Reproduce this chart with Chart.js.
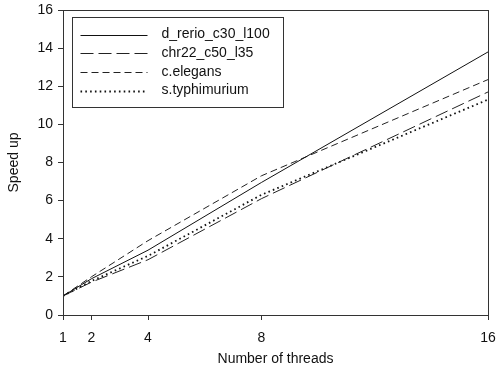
<!DOCTYPE html>
<html>
<head>
<meta charset="utf-8">
<script src="https://cdn.jsdelivr.net/npm/chart.js@4/dist/chart.umd.min.js"></script>
<style>
html,body{margin:0;padding:0;background:#fff;}
#wrap{width:502px;height:372px;position:relative;}
</style>
</head>
<body>
<div id="wrap"><canvas id="c" width="502" height="372"></canvas></div>
<script>
const threads = [1, 2, 4, 8, 16];
const xTicks = [1, 2, 4, 8, 16];
const seriesNames = ["d_rerio_c30_l100", "chr22_c50_l35", "c.elegans", "s.typhimurium"];
const dRerio = [1, 1.9, 3.4, 6.95, 13.8];
const chr22 = [1, 1.72, 2.9, 6.1, 11.7];
const cElegans = [1, 2.0, 3.9, 7.3, 12.35];
const sTyph = [1, 1.78, 3.1, 6.3, 11.3];

const FONT = "'Liberation Sans', Arial, sans-serif";
const toPts = arr => arr.map((v, i) => ({x: threads[i], y: v}));

const styles = [
  {dash: [], width: 1, color: '#111'},
  {dash: [13, 5], width: 1, color: '#222'},
  {dash: [7, 4], width: 1, color: '#222'},
  {dash: [1.6, 3.2], width: 1.8, color: '#111'}
];
const values = [dRerio, chr22, cElegans, sTyph];

const datasets = values.map((v, i) => ({
  label: seriesNames[i],
  data: toPts(v),
  borderColor: styles[i].color,
  borderWidth: styles[i].width,
  borderDash: styles[i].dash,
  pointRadius: 0,
  fill: false,
  tension: 0
}));

const framePlugin = {
  id: 'frame',
  afterDraw(chart) {
    const {ctx, chartArea: a} = chart;
    ctx.save();
    ctx.strokeStyle = '#333';
    ctx.lineWidth = 1;
    ctx.strokeRect(Math.round(a.left) + 0.5, Math.round(a.top) + 0.5,
      Math.round(a.right - a.left), Math.round(a.bottom - a.top));
    // legend
    const bx = Math.round(a.left) + 9.5, by = Math.round(a.top) + 7.5;
    const bw = 211, bh = 90;
    ctx.fillStyle = '#fff';
    ctx.fillRect(bx, by, bw, bh);
    ctx.strokeStyle = '#333';
    ctx.setLineDash([]);
    ctx.strokeRect(bx, by, bw, bh);
    chart.data.datasets.forEach((ds, i) => {
      const y = by + 17 + i * 18.7;
      ctx.save();
      ctx.strokeStyle = ds.borderColor;
      ctx.lineWidth = ds.borderWidth;
      ctx.setLineDash(ds.borderDash || []);
      ctx.beginPath();
      ctx.moveTo(bx + 8, Math.round(y) + 0.5);
      ctx.lineTo(bx + 75, Math.round(y) + 0.5);
      ctx.stroke();
      ctx.restore();
      ctx.fillStyle = '#111';
      ctx.font = '14px ' + FONT;
      ctx.textBaseline = 'middle';
      ctx.textAlign = 'left';
      ctx.fillText(ds.label, bx + 89, y);
    });
    ctx.restore();
  }
};

new Chart(document.getElementById('c'), {
  type: 'line',
  data: {datasets},
  options: {
    responsive: false,
    animation: false,
    devicePixelRatio: 1,
    layout: {padding: {top: 10, right: 14, left: 0, bottom: 0}},
    plugins: {legend: {display: false}, tooltip: {enabled: false}},
    scales: {
      x: {
        type: 'linear', min: 1, max: 16,
        afterBuildTicks: s => { s.ticks = xTicks.map(v => ({value: v})); },
        afterFit: s => { s.height = 57; s.paddingLeft = 0; s.paddingRight = 0; },
        grid: {display: true, drawOnChartArea: false, tickLength: 5, color: '#333'},
        border: {color: '#333'},
        ticks: {color: '#111', font: {family: FONT, size: 14}, padding: 10, autoSkip: false, maxRotation: 0},
        title: {display: true, text: 'Number of threads', color: '#111', font: {family: FONT, size: 14}, padding: {top: 8}}
      },
      y: {
        min: 0, max: 16,
        afterFit: s => { s.width = 63; s.paddingTop = 0; s.paddingBottom = 0; },
        grid: {display: true, drawOnChartArea: false, tickLength: 5, color: '#333'},
        border: {color: '#333'},
        ticks: {stepSize: 2, color: '#111', font: {family: FONT, size: 14}, padding: 5},
        title: {display: true, text: 'Speed up', color: '#111', font: {family: FONT, size: 14}, padding: {top: 6, bottom: 4}}
      }
    }
  },
  plugins: [framePlugin]
});
</script>
</body>
</html>
